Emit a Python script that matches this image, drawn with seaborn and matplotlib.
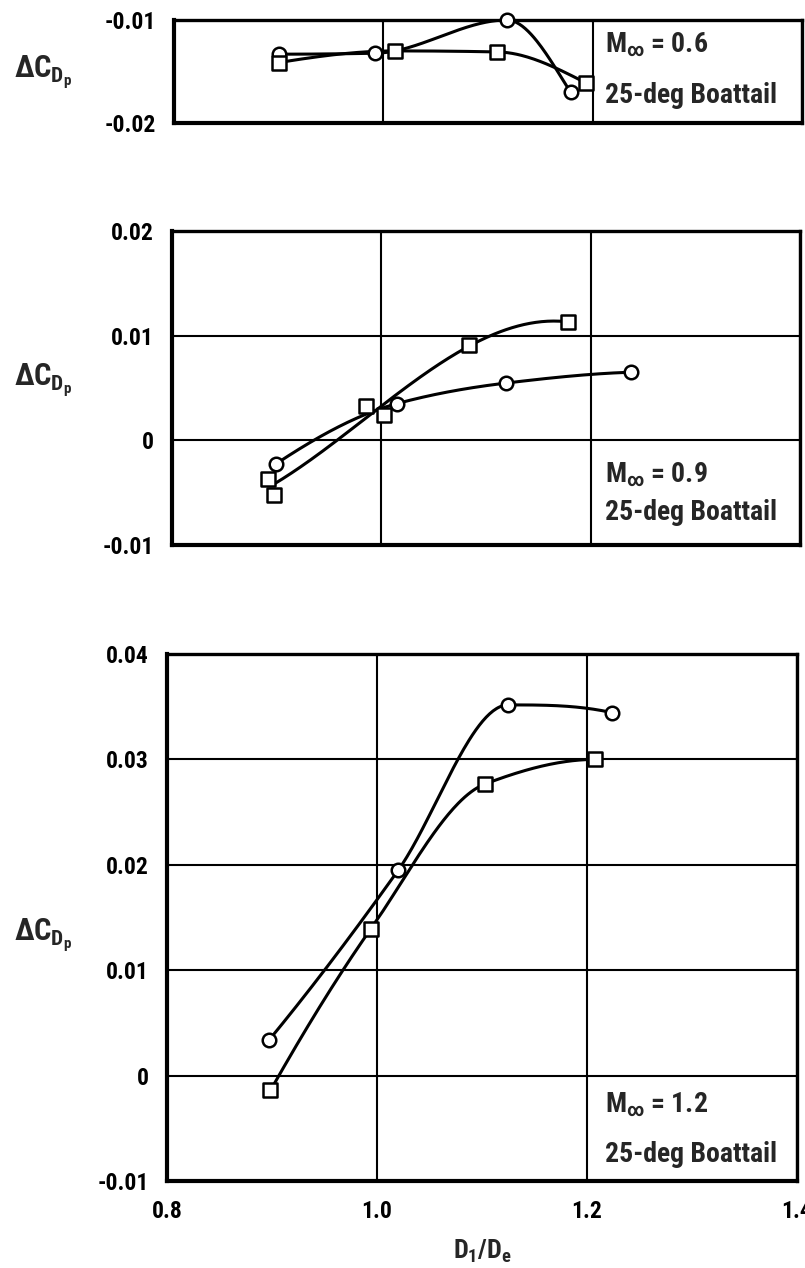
import numpy as np
import pandas as pd
import matplotlib
matplotlib.use("Agg")
import matplotlib.pyplot as plt
from matplotlib import font_manager as fm
import seaborn as sns

# Pressure-drag increment vs. nozzle diameter ratio, 25-deg boattail
# Mach 0.6
m06_circle_x = [0.900, 0.992, 1.118, 1.179]
m06_circle_y = [-0.01332, -0.01323, -0.0100, -0.01703]
m06_square_x = [0.900, 1.011, 1.109, 1.194]
m06_square_y = [-0.01413, -0.0130, -0.0131, -0.01613]

# Mach 0.9
m09_circle_x = [0.8995, 1.015, 1.119, 1.239]
m09_circle_y = [-0.00224, 0.00351, 0.00547, 0.00651]
m09_square_x = [0.8915, 0.8973, 0.9856, 1.0026, 1.0839, 1.1786]
m09_square_y = [-0.00367, -0.00521, 0.00329, 0.00240, 0.00912, 0.01130]

# Mach 1.2
m12_circle_x = [0.897, 1.020, 1.125, 1.224]
m12_circle_y = [0.00335, 0.01946, 0.03517, 0.03443]
m12_square_x = [0.8985, 0.994, 1.103, 1.208]
m12_square_y = [-0.00141, 0.0139, 0.02767, 0.0300]

mach_labels = ["0.6", "0.9", "1.2"]
config_label = "25-deg Boattail"

x_ticks = [0.8, 1.0, 1.2, 1.4]
x_tick_labels = ["0.8", "1.0", "1.2", "1.4"]
y_ticks = [[-0.02, -0.01],
           [-0.01, 0.0, 0.01, 0.02],
           [-0.01, 0.0, 0.01, 0.02, 0.03, 0.04]]
y_tick_labels = [["-0.02", "-0.01"],
                 ["-0.01", "0", "0.01", "0.02"],
                 ["-0.01", "0", "0.01", "0.02", "0.03", "0.04"]]

sns.set_theme(style="white")

names = {f.name for f in fm.fontManager.ttflist}
FONT = "DejaVu Sans"
for cand in ["Liberation Sans Narrow", "DejaVu Sans Condensed",
             "Roboto Condensed", "Liberation Sans"]:
    if cand in names:
        FONT = cand
        break
plt.rcParams["font.family"] = [FONT, "DejaVu Sans"]
plt.rcParams["font.weight"] = "bold"
plt.rcParams["mathtext.fontset"] = "custom"
plt.rcParams["mathtext.rm"] = FONT + ":bold"
plt.rcParams["mathtext.it"] = FONT + ":bold"
plt.rcParams["mathtext.bf"] = FONT + ":bold"


def pchip(x, y, n=200):
    """Monotone piecewise-cubic fairing through the test points."""
    x = np.asarray(x, float)
    y = np.asarray(y, float)
    h = np.diff(x)
    delta = np.diff(y) / h
    d = np.zeros_like(y)
    for k in range(1, len(x) - 1):
        if delta[k - 1] * delta[k] > 0:
            w1 = 2 * h[k] + h[k - 1]
            w2 = h[k] + 2 * h[k - 1]
            d[k] = (w1 + w2) / (w1 / delta[k - 1] + w2 / delta[k])

    def end(h0, h1, d0, d1):
        v = ((2 * h0 + h1) * d0 - h0 * d1) / (h0 + h1)
        if np.sign(v) != np.sign(d0):
            v = 0.0
        elif np.sign(d0) != np.sign(d1) and abs(v) > 3 * abs(d0):
            v = 3 * d0
        return v

    d[0] = end(h[0], h[1], delta[0], delta[1])
    d[-1] = end(h[-1], h[-2], delta[-1], delta[-2])
    xs = np.linspace(x[0], x[-1], n)
    idx = np.clip(np.searchsorted(x, xs) - 1, 0, len(h) - 1)
    t = (xs - x[idx]) / h[idx]
    h00 = 2 * t**3 - 3 * t**2 + 1
    h10 = t**3 - 2 * t**2 + t
    h01 = -2 * t**3 + 3 * t**2
    h11 = t**3 - t**2
    ys = (h00 * y[idx] + h10 * h[idx] * d[idx]
          + h01 * y[idx + 1] + h11 * h[idx] * d[idx + 1])
    return xs, ys


def lsq_fair(x, y, n=200):
    """Least-squares cubic fairing for scattered repeat points."""
    c = np.polyfit(x, y, 3)
    xs = np.linspace(x[int(np.argmin(y))], max(x), n)
    return xs, np.polyval(c, xs)


W, H = 805, 1268
fig = plt.figure(figsize=(W / 100, H / 100), dpi=100)

# panel boxes in pixels: left, top, right, bottom
boxes = [(174, 20, 802, 123), (172, 231, 800, 545), (167, 654, 797, 1181)]
ylims = [(-0.02, -0.01), (-0.01, 0.02), (-0.01, 0.04)]

series = [
    [(m06_circle_x, m06_circle_y, "o", pchip), (m06_square_x, m06_square_y, "s", pchip)],
    [(m09_circle_x, m09_circle_y, "o", pchip), (m09_square_x, m09_square_y, "s", lsq_fair)],
    [(m12_circle_x, m12_circle_y, "o", pchip), (m12_square_x, m12_square_y, "s", pchip)],
]

# text placement (pixels): label x, first/second baseline
text_rows = [(605, 52, 103), (605, 482, 520), (605, 1112, 1162)]
ylabel_y = [72, 380, 935]

for i, (l, t, r, b) in enumerate(boxes):
    ax = fig.add_axes([l / W, 1 - b / H, (r - l) / W, (b - t) / H])
    ax.set_xlim(0.8, 1.4)
    ax.set_ylim(*ylims[i])

    for xs_, ys_, mk, fair in series[i]:
        fx, fy = fair(xs_, ys_)
        curve = pd.DataFrame({"x": fx, "y": fy})
        sns.lineplot(data=curve, x="x", y="y", ax=ax, color="black",
                     lw=2.2, sort=False, estimator=None, zorder=3)
        pts = pd.DataFrame({"x": xs_, "y": ys_})
        sns.scatterplot(data=pts, x="x", y="y", ax=ax, marker=mk, s=95,
                        facecolor="white", edgecolor="black", linewidth=1.8,
                        zorder=4, clip_on=False)

    ax.set_xticks(x_ticks)
    ax.set_yticks(y_ticks[i])
    ax.set_yticklabels(y_tick_labels[i], fontsize=17, fontweight="bold")
    if i == 2:
        ax.set_xticklabels(x_tick_labels, fontsize=17, fontweight="bold")
        ax.set_xlabel(r"$D_1/D_e$", fontsize=19, labelpad=10)
    else:
        ax.set_xticklabels([])
        ax.set_xlabel("")
    ax.set_ylabel("")
    ax.tick_params(axis="both", length=0, colors="black")
    ax.tick_params(axis="y", pad=13)
    ax.tick_params(axis="x", pad=14)
    ax.grid(True, color="black", lw=1.5)
    ax.set_axisbelow(True)
    for name, sp in ax.spines.items():
        sp.set_visible(True)
        sp.set_color("black")
        sp.set_linewidth(3.0 if name in ("left", "bottom") else 2.4)

    tx, base1, base2 = text_rows[i]
    fx = (tx - l) / (r - l)
    ax.text(fx, (b - base1) / (b - t), r"$M_\infty$ = " + mach_labels[i],
            transform=ax.transAxes, fontsize=20, va="baseline", ha="left")
    ax.text(fx, (b - base2) / (b - t), config_label,
            transform=ax.transAxes, fontsize=20, va="baseline", ha="left")

    fig.text(14 / W, 1 - ylabel_y[i] / H, r"$\Delta C_{D_p}$",
             fontsize=22, ha="left", va="center")

fig.savefig("out.png", dpi=100)
